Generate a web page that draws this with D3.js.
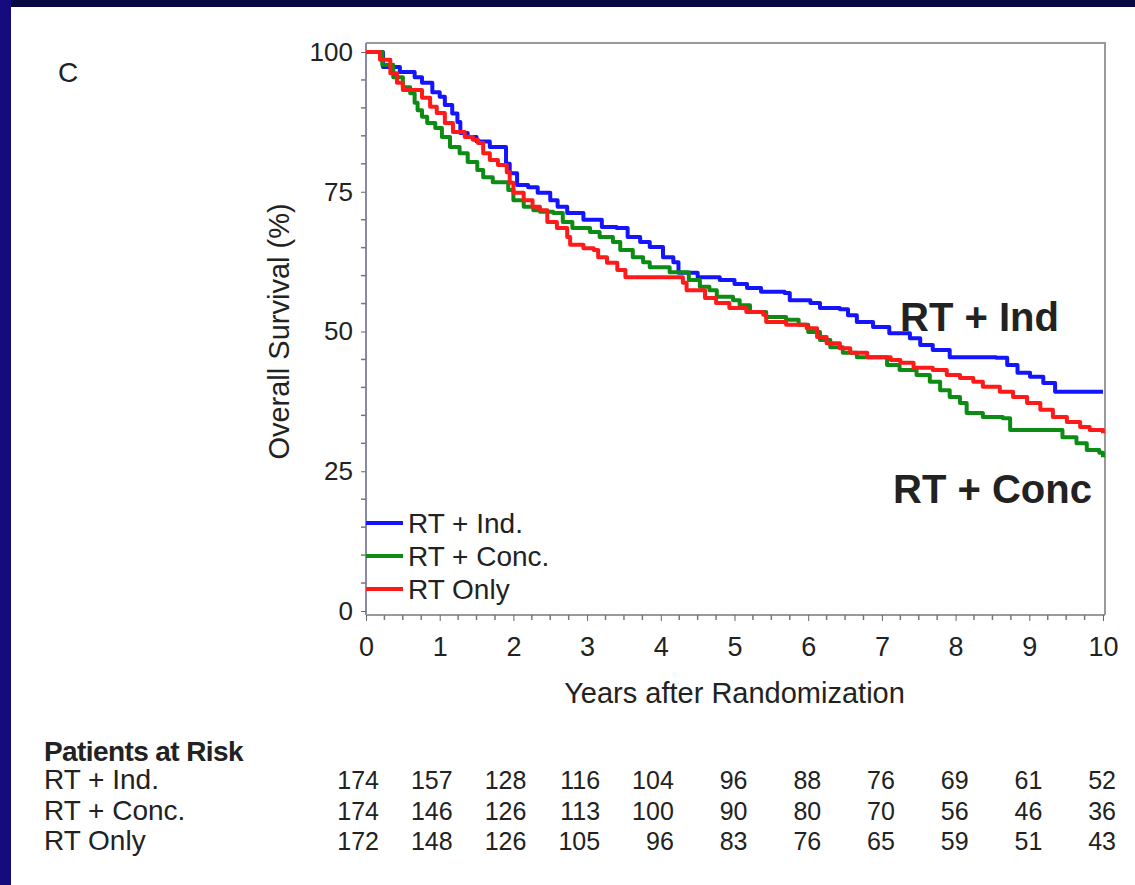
<!DOCTYPE html>
<html>
<head>
<meta charset="utf-8">
<script src="https://cdn.jsdelivr.net/npm/d3@7"></script>
<style>
  html, body { margin: 0; padding: 0; background: #fff; }
  svg { display: block; }
  text { font-family: "Liberation Sans", Arial, sans-serif; fill: #222; }
</style>
</head>
<body>
<div id="chart"></div>
<script>
// Kaplan-Meier curves: [years, survival %]
const indCurve = [
  [0, 100], [0.23, 97.3], [0.46, 96.4], [0.66, 95.5], [0.76, 94.5], [0.9, 92.8],
  [1.0, 92], [1.07, 90.5], [1.17, 89], [1.24, 87.5], [1.28, 85.5], [1.38, 84.8],
  [1.5, 84], [1.68, 83], [1.9, 80], [1.95, 78.3], [2.05, 76.2], [2.2, 75.8],
  [2.33, 74.8], [2.5, 73.5], [2.6, 72.3], [2.73, 71.2], [2.95, 70], [3.2, 68.7],
  [3.4, 68.5], [3.55, 66.9], [3.72, 66], [3.85, 65.1], [4.03, 63.3], [4.17, 62.4],
  [4.24, 60.5], [4.5, 59.7], [4.8, 59.2], [5.0, 58.5], [5.17, 57.8], [5.36, 57.1],
  [5.68, 56.9], [5.75, 55.6], [6.03, 55.1], [6.16, 54.2], [6.43, 54], [6.54, 52.9],
  [6.66, 51.7], [6.88, 50.8], [7.1, 49.7], [7.38, 48.8], [7.52, 47.6], [7.69, 46.7],
  [7.92, 45.4], [8.55, 45.3], [8.7, 44], [8.84, 42.6], [9.01, 41.9], [9.19, 40.8],
  [9.35, 39.2], [10, 39.2]
];
const concCurve = [
  [0, 100], [0.22, 97.7], [0.37, 95.5], [0.5, 93.7], [0.6, 92.6], [0.66, 90.9],
  [0.7, 89.6], [0.76, 88.4], [0.83, 87.3], [0.94, 86.4], [1.03, 84.8], [1.14, 83],
  [1.27, 81.9], [1.38, 80.3], [1.51, 78.9], [1.59, 77.6], [1.72, 76.7], [1.93, 75.3],
  [2.0, 73.5], [2.14, 72.3], [2.27, 71.7], [2.36, 71.4], [2.54, 71.2], [2.67, 69.6],
  [2.8, 68.5], [3.04, 67.8], [3.17, 66.9], [3.35, 66], [3.45, 64.6], [3.62, 63.3],
  [3.76, 62.4], [3.85, 61.5], [4.12, 60.6], [4.38, 59.2], [4.53, 58], [4.66, 57.4],
  [4.76, 56.2], [4.98, 55.6], [5.07, 54.7], [5.21, 53.5], [5.43, 52.6], [5.7, 52.1],
  [5.87, 51.2], [6.0, 49.9], [6.16, 48.5], [6.3, 47.2], [6.47, 46.2], [6.66, 45.4],
  [7.07, 44], [7.24, 43.1], [7.47, 42.2], [7.65, 41], [7.79, 39.5], [7.92, 38.3],
  [8.06, 37.2], [8.15, 35.4], [8.37, 34.7], [8.64, 34.5], [8.74, 32.4], [9.45, 31.1],
  [9.64, 30], [9.78, 28.8], [9.95, 28.3], [10, 27.5]
];
const onlyCurve = [
  [0, 100], [0.19, 98.6], [0.33, 96.2], [0.42, 94.5], [0.5, 93.2], [0.76, 91.8],
  [0.87, 90.2], [0.96, 89.1], [1.07, 87.3], [1.18, 85.7], [1.34, 84.8], [1.45, 84.3],
  [1.52, 83.7], [1.59, 81.9], [1.68, 80.7], [1.79, 79.8], [1.91, 78.5], [1.95, 76.6],
  [2.0, 74.8], [2.14, 73.5], [2.26, 72.3], [2.36, 71.7], [2.46, 69.6], [2.59, 68.5],
  [2.73, 66.9], [2.77, 65.5], [2.95, 64.9], [3.09, 64.6], [3.15, 63.3], [3.27, 62.3],
  [3.41, 61], [3.52, 59.7], [4.3, 58.7], [4.35, 57.4], [4.6, 56], [4.75, 55.1],
  [4.93, 54.2], [5.16, 53.5], [5.39, 53], [5.43, 51.7], [5.7, 51.2], [5.98, 50.6],
  [6.12, 49], [6.25, 47.9], [6.43, 47], [6.57, 46.2], [6.8, 45.4], [7.12, 44.9],
  [7.25, 44.4], [7.43, 43.5], [7.69, 43.1], [7.88, 42.2], [8.06, 41.7], [8.24, 41],
  [8.37, 40.1], [8.6, 39.2], [8.78, 38.3], [8.97, 37.2], [9.15, 36], [9.32, 34.7],
  [9.51, 33.8], [9.69, 32.9], [9.82, 32.4], [10, 31.8]
];

const seriesNames = ['RT + Ind.', 'RT + Conc.', 'RT Only'];
const seriesColors = ['#1414ff', '#0c8c14', '#ff1a1a'];

// patients at risk, one value per year 0..10
const riskYears = [0, 1, 2, 3, 4, 5, 6, 7, 8, 9, 10];
const riskInd  = [174, 157, 128, 116, 104, 96, 88, 76, 69, 61, 52];
const riskConc = [174, 146, 126, 113, 100, 90, 80, 70, 56, 46, 36];
const riskOnly = [172, 148, 126, 105, 96, 83, 76, 65, 59, 51, 43];

const yTicks = [0, 25, 50, 75, 100];
const xTicks = [0, 1, 2, 3, 4, 5, 6, 7, 8, 9, 10];

const W = 1135, H = 885;
const svg = d3.select('#chart').append('svg')
  .attr('width', W).attr('height', H);

// slide frame
svg.append('rect').attr('x', 0).attr('y', 0).attr('width', W).attr('height', H).attr('fill', '#fff');
svg.append('rect').attr('x', 0).attr('y', 0).attr('width', W).attr('height', 7).attr('fill', '#0a0a42');
svg.append('rect').attr('x', 0).attr('y', 0).attr('width', 11).attr('height', H).attr('fill', '#150b7e');

const x = d3.scaleLinear().domain([0, 10]).range([366, 1103]);
const y = d3.scaleLinear().domain([0, 100]).range([611, 52]);
const frameTop = 43, frameRight = 1105, frameBottom = 615;

// frame box
svg.append('path')
  .attr('d', `M366,${frameTop}H${frameRight}V${frameBottom}`)
  .attr('fill', 'none').attr('stroke', '#9a9a9a').attr('stroke-width', 2);

// y axis
const yAxis = d3.axisLeft(y).tickValues(yTicks).tickSize(5).tickPadding(8);
const gy = svg.append('g').attr('transform', 'translate(366,0)').call(yAxis);
gy.select('.domain').attr('d', `M0,${frameBottom}V${frameTop}`).attr('stroke', '#8a8aa8').attr('stroke-width', 2);
gy.selectAll('line').attr('stroke', '#666');
gy.selectAll('text').attr('font-size', 26).attr('font-family', '"Liberation Sans", Arial, sans-serif').attr('fill', '#2a2a3a');
const yMinor = d3.range(0, 101, 5).filter(v => v % 25 !== 0);
svg.append('g').selectAll('line').data(yMinor).join('line')
  .attr('x1', 361).attr('x2', 366).attr('y1', d => y(d)).attr('y2', d => y(d))
  .attr('stroke', '#777').attr('stroke-width', 1.5);

// x axis
const xAxis = d3.axisBottom(x).tickValues(xTicks).tickSize(6).tickPadding(16);
const gx = svg.append('g').attr('transform', `translate(0,${frameBottom})`).call(xAxis);
gx.select('.domain').attr('d', `M366,0H${frameRight}`).attr('stroke', '#9a9a9a').attr('stroke-width', 2);
gx.selectAll('line').attr('stroke', '#666');
gx.selectAll('text').attr('font-size', 27).attr('font-family', '"Liberation Sans", Arial, sans-serif').attr('fill', '#2a2a3a');
const xMinor = d3.range(0, 40).map(i => i / 4).filter(v => v % 1 !== 0);
svg.append('g').selectAll('line').data(xMinor).join('line')
  .attr('x1', d => x(d)).attr('x2', d => x(d)).attr('y1', frameBottom).attr('y2', frameBottom + 5)
  .attr('stroke', '#777').attr('stroke-width', 1.5);

// axis titles
svg.append('text').attr('x', x(5)).attr('y', 703).attr('text-anchor', 'middle')
  .attr('font-size', 29).text('Years after Randomization');
svg.append('text').attr('transform', `translate(289,${y(50)}) rotate(-90)`).attr('text-anchor', 'middle')
  .attr('font-size', 29).text('Overall Survival (%)');
svg.append('text').attr('x', 58).attr('y', 82).attr('font-size', 28).text('C');

// survival curves
const line = d3.line().x(d => x(d[0])).y(d => y(d[1])).curve(d3.curveStepAfter);
[indCurve, concCurve, onlyCurve].forEach((data, i) => {
  svg.append('path').datum(data)
    .attr('fill', 'none').attr('stroke', seriesColors[i]).attr('stroke-width', 4)
    .attr('stroke-linejoin', 'round').attr('d', line);
});

// legend
const legendY = [523, 556, 589];
seriesNames.forEach((name, i) => {
  svg.append('line').attr('x1', 366).attr('x2', 403).attr('y1', legendY[i]).attr('y2', legendY[i])
    .attr('stroke', seriesColors[i]).attr('stroke-width', 4);
  svg.append('text').attr('x', 408).attr('y', legendY[i] + 10).attr('font-size', 28).text(name);
});

// big labels
svg.append('text').attr('x', 900).attr('y', 331).attr('font-size', 40)
  .attr('font-family', 'Lato, "Open Sans", sans-serif').attr('font-weight', 700).attr('fill', '#000')
  .text('RT + Ind');
svg.append('text').attr('x', 893).attr('y', 503).attr('font-size', 40)
  .attr('font-family', 'Lato, "Open Sans", sans-serif').attr('font-weight', 700).attr('fill', '#000')
  .text('RT + Conc');

// patients at risk table
svg.append('text').attr('x', 44).attr('y', 761).attr('font-size', 28).attr('font-weight', 700)
  .attr('letter-spacing', -0.6).text('Patients at Risk');
const riskRows = [riskInd, riskConc, riskOnly];
const rowY = [789, 820, 850];
riskRows.forEach((row, i) => {
  svg.append('text').attr('x', 44).attr('y', rowY[i]).attr('font-size', 28).text(seriesNames[i]);
  svg.append('g').selectAll('text').data(row).join('text')
    .attr('x', (d, j) => x(riskYears[j]) + 13).attr('y', rowY[i])
    .attr('text-anchor', 'end').attr('font-size', 25).text(d => d);
});
</script>
</body>
</html>
